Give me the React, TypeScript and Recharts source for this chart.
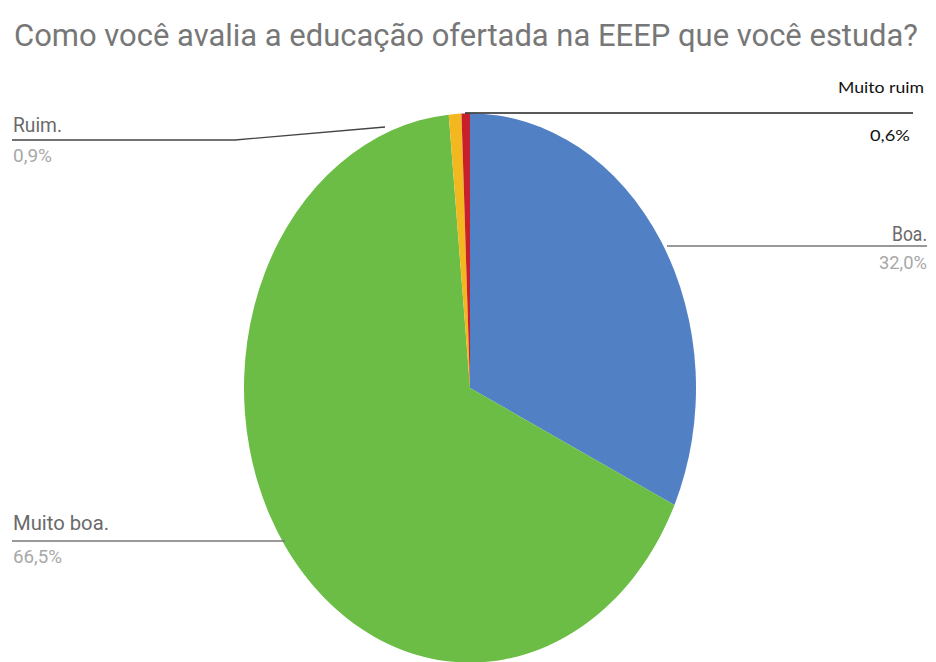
import React from "react";
import { PieChart, Pie, Cell } from "recharts";

const TITLE = "Como você avalia a educação ofertada na EEEP que você estuda?";
const categories = ["Boa.", "Muito boa.", "Ruim.", "Muito ruim"];
const values = [32.0, 66.5, 0.9, 0.6];
const valueLabels = ["32,0%", "66,5%", "0,9%", "0,6%"];
const colors = ["#5180c5", "#6bbd45", "#f3b81f", "#c8202b"];

const data = categories.map((name, i) => ({ name, value: values[i] }));

const W = 936;
const H = 662;
const CX = 470;
const CY = 388;
const R = 226;
const SY = 1.215;

export default function App() {
  return (
    <div style={{ position: "absolute", left: 0, top: 0, width: W, height: H, overflow: "hidden", background: "#fff" }}>
      <div style={{ position: "absolute", left: 0, top: 0, width: W, height: H, transform: `scaleY(${SY})`, transformOrigin: `${CX}px ${CY}px` }}>
        <PieChart width={W} height={H} margin={{ top: 0, right: 0, bottom: 0, left: 0 }}>
          <Pie
            data={data}
            dataKey="value"
            nameKey="name"
            cx={CX}
            cy={CY}
            outerRadius={R}
            innerRadius={0}
            startAngle={90}
            endAngle={-270}
            stroke="none"
            isAnimationActive={false}
          >
            {data.map((d, i) => (
              <Cell key={d.name} fill={colors[i]} />
            ))}
          </Pie>
        </PieChart>
      </div>
      <svg width={W} height={H} style={{ position: "absolute", left: 0, top: 0 }}>
        <text x={14} y={46} fontFamily="Roboto" fontSize={31} fill="#777" textLength={904} lengthAdjust="spacingAndGlyphs">
          {TITLE}
        </text>
        {/* Ruim */}
        <polyline points="12,140 235,140 385,127" fill="none" stroke="#444" strokeWidth={1.3} />
        <text x={13} y={132} fontFamily="Roboto" fontSize={21} fill="#6a6a6a" textLength={49} lengthAdjust="spacingAndGlyphs">{categories[2]}</text>
        <text x={13} y={162} fontFamily="Roboto" fontSize={19} fill="#a8a8a8" textLength={39} lengthAdjust="spacingAndGlyphs">{valueLabels[2]}</text>
        {/* Muito ruim */}
        <line x1={465} y1={113} x2={913} y2={113} stroke="#222" strokeWidth={1.5} />
        <text x={838} y={93} fontFamily="Lato" fontSize={15} fill="#111" textLength={86} lengthAdjust="spacingAndGlyphs">{categories[3]}</text>
        <text x={870} y={141} fontFamily="Lato" fontSize={15} fill="#111" textLength={40} lengthAdjust="spacingAndGlyphs">{valueLabels[3]}</text>
        {/* Boa */}
        <line x1={667} y1={246} x2={927} y2={246} stroke="#777" strokeWidth={1.3} />
        <text x={892} y={241} fontFamily="Roboto" fontSize={20} fill="#6a6a6a" textLength={35} lengthAdjust="spacingAndGlyphs">{categories[0]}</text>
        <text x={879} y={269} fontFamily="Roboto" fontSize={19} fill="#a8a8a8" textLength={48} lengthAdjust="spacingAndGlyphs">{valueLabels[0]}</text>
        {/* Muito boa */}
        <line x1={12} y1={541} x2={285} y2={541} stroke="#777" strokeWidth={1.3} />
        <text x={13} y={530} fontFamily="Roboto" fontSize={21} fill="#6a6a6a" textLength={96} lengthAdjust="spacingAndGlyphs">{categories[1]}</text>
        <text x={13} y={563} fontFamily="Roboto" fontSize={19} fill="#a8a8a8" textLength={49} lengthAdjust="spacingAndGlyphs">{valueLabels[1]}</text>
      </svg>
    </div>
  );
}
